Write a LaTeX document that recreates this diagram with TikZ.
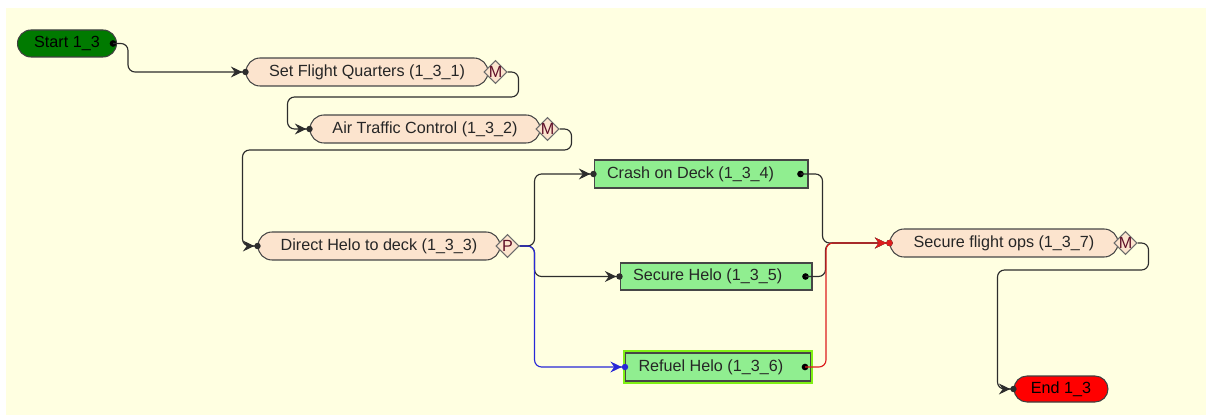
\documentclass[tikz,border=0pt]{standalone}
\usepackage{fontspec}
\setmainfont{Liberation Sans}
\usetikzlibrary{shapes.geometric,arrows.meta}
\definecolor{paper}{RGB}{255,255,225}
\definecolor{peach}{RGB}{252,228,206}
\definecolor{actgreen}{RGB}{144,238,144}
\definecolor{startgreen}{RGB}{0,122,0}
\definecolor{endred}{RGB}{255,0,0}
\definecolor{glow}{RGB}{128,240,20}
\definecolor{edge}{RGB}{70,70,70}
\definecolor{wire}{RGB}{45,45,45}
\definecolor{blueline}{RGB}{40,40,215}
\definecolor{redline}{RGB}{220,30,30}
\definecolor{gatetext}{RGB}{95,15,40}
\newcommand\actlabel[2]{\makebox[#1][l]{#2}}
\begin{document}
\begin{tikzpicture}[x=0.02cm,y=-0.02cm,font=\fontsize{9.2}{11}\selectfont,
 task/.style={rectangle,rounded corners=0.28cm,draw=edge,fill=peach,text=black!85,minimum height=0.56cm,inner sep=0pt,line width=0.6pt},
 gate/.style={diamond,aspect=1,draw=edge!80,fill=peach,text=gatetext,minimum size=0.46cm,inner sep=-2pt,line width=0.6pt},
 act/.style={rectangle,draw=edge,fill=actgreen,text=black!85,minimum height=0.56cm,inner ysep=0pt,inner xsep=0.26cm,line width=0.6pt},
 term/.style={rectangle,draw=black!75,text=black,minimum height=0.54cm,inner sep=0pt,line width=0.6pt},
 port/.style={circle,fill=black,inner sep=0pt,minimum size=3.8pt},
 flow/.style={wire,line width=0.65pt,rounded corners=4pt,shorten >=-1.8pt,
   -{Stealth[length=6.5pt,width=6.2pt,inset=2.2pt]Circle[length=3.6pt]}}]
% canvas
\fill[white] (0,0) rectangle (1206,415);
\fill[paper] (6,8) rectangle (1206,415);

% start and end
\node[term,fill=startgreen,minimum width=1.98cm,rounded corners=0.27cm] (start) at (67,43.5) {Start 1\_3};
\node[term,fill=endred,minimum width=1.88cm,minimum height=0.52cm,rounded corners=0.26cm] (end) at (1061,389) {End 1\_3};

% tasks with their gates
\foreach \n/\x/\y/\w/\g/\t in {q1/367/72/4.84/M/Set Flight Quarters (1\_3\_1),
  q2/425/129/4.6/M/Air Traffic Control (1\_3\_2),
  q3/379/246/4.84/P/Direct Helo to deck (1\_3\_3),
  q7/1004/243/4.56/M/Secure flight ops (1\_3\_7)}{
  \node[task,minimum width=\w cm] (\n) at (\x,\y) {\t};
  \node[gate] (\n-g) at ([xshift=0.14cm]\n.east) {\g};
}

% parallel activities
\node[act] (t4) at (701,174) {\actlabel{3.76cm}{Crash on Deck (1\_3\_4)}};
\node[act,minimum height=0.54cm] (t5) at (716,276.5) {\actlabel{3.32cm}{Secure Helo (1\_3\_5)}};
\node[act,preaction={draw=glow,line width=3pt}] (t6) at (718,367) {\actlabel{3.18cm}{Refuel Helo (1\_3\_6)}};

% outgoing ports
\node[port] (start-o) at ([xshift=-0.08cm]start.east) {};
\node[port] (t4-o) at ([xshift=-0.16cm]t4.east) {};
\node[port] (t5-o) at ([xshift=-0.14cm]t5.east) {};
\node[port] (t6-o) at ([xshift=-0.12cm]t6.east) {};

% sequence
\draw[flow] (start-o.center) -- ++(15,0) |- (q1.west);
\draw[flow] (q1-g.east) -- ++(11,0) -- ++(0,25) -| ([xshift=-0.44cm]q2.west) -- (q2.west);
\draw[flow] (q2-g.east) -- ++(12,0) -- ++(0,21) -| ([xshift=-0.3cm]q3.west) -- (q3.west);

% split
\draw[flow] (q3-g.east) -- ++(15,0) |- (t4.west);
\draw[flow] (q3-g.east) -- ++(15,0) |- (t5.west);
\draw[flow,blueline] (q3-g.east) -- ++(15,0) |- (t6.west);

% join
\draw[flow] (t4-o.center) -- ++(22,0) |- (q7.west);
\draw[flow] (t5-o.center) -- ++(20,0) |- (q7.west);
\draw[flow,redline] (t6-o.center) -- ++(21,0) |- (q7.west);

\draw[flow] (q7-g.east) -- ++(11,0) -- ++(0,27) -| ([xshift=-0.32cm]end.west) -- (end.west);
\end{tikzpicture}
\end{document}
